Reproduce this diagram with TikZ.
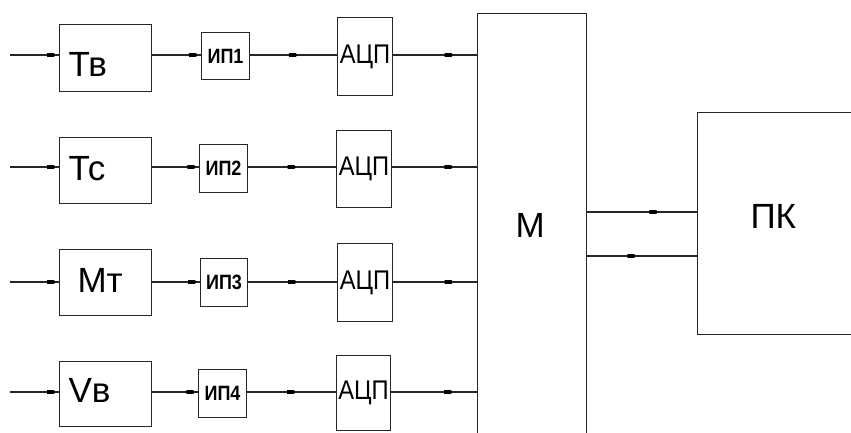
\documentclass[tikz,border=0pt]{standalone}
\usepackage{fontspec}
\setmainfont{Liberation Sans}
\usetikzlibrary{arrows.meta,decorations.markings}
\begin{document}
\begin{tikzpicture}[x=1pt,y=-1pt,line width=1pt,
  box/.style={draw=black!85,line width=1.1pt,inner sep=0pt,anchor=north west},
  big/.style={font=\fontsize{35}{35}\selectfont,anchor=base west,inner sep=0pt},
  ipt/.style={font=\bfseries\fontsize{18}{18}\selectfont,inner sep=0pt,yscale=1.15},
  adct/.style={font=\fontsize{25}{25}\selectfont,inner sep=0pt,xscale=0.95,yscale=1.08},
  conn/.style={draw=black!85,line width=1.1pt},
  mk/.style={postaction={decorate},decoration={markings,mark=at position #1 with {\fill[black] (-8pt,-1.8pt) -- (-1pt,-1.8pt) -- (0pt,0pt) -- (-1pt,1.8pt) -- (-8pt,1.8pt) -- cycle;}}}]
\clip (0,0) rectangle (851,432);
\fill[white] (0,0) rectangle (851,432);
% row 1
\node[box,minimum width=92,minimum height=67] (s1) at (59,24) {};
\node[box,minimum width=48,minimum height=47] (ip1) at (201,32) {};
\node[box,minimum width=55,minimum height=78] (adc1) at (337,17) {};
% row 2
\node[box,minimum width=92,minimum height=66] (s2) at (59,137) {};
\node[box,minimum width=48,minimum height=48] (ip2) at (199,144) {};
\node[box,minimum width=55,minimum height=77] (adc2) at (336,130) {};
% row 3
\node[box,minimum width=92,minimum height=66] (s3) at (59,249) {};
\node[box,minimum width=47,minimum height=48] (ip3) at (200,258) {};
\node[box,minimum width=55,minimum height=78] (adc3) at (337,243) {};
% row 4
\node[box,minimum width=92,minimum height=65] (s4) at (59,361) {};
\node[box,minimum width=48,minimum height=48] (ip4) at (198,369) {};
\node[box,minimum width=54,minimum height=75] (adc4) at (336,355) {};
% M and PC
\node[box,minimum width=109,minimum height=440] (M) at (477,13) {};
\node[box,minimum width=175,minimum height=222] (PC) at (697,112) {};
% texts
\node[big] (t1) at (68,76) {Тв};
\node[big] (t2) at (68,180) {Тс};
\node[big] (t3) at (77,292) {Мт};
\node[big] (t4) at (68,402) {Vв};
\node[big] (tM) at (515,237) {М};
\node[big] (tPC) at (750,228) {ПК};
\foreach \i in {1,2,3,4}{
  \node[ipt] (tip\i) at (ip\i.center) {ИП\i};
  \node[adct] (tadc\i) at (adc\i.center) {АЦП};
}
% connectors
\coordinate (in1) at (10,55);
\coordinate (in2) at (10,167);
\coordinate (in3) at (10,282);
\coordinate (in4) at (10,392);
\foreach \i in {1,2,3,4}{
  \draw[conn,mk=0.92] (in\i) -- (in\i -| s\i.west);
  \draw[conn,mk=0.92] (s\i.east |- in\i) -- (in\i -| ip\i.west);
  \draw[conn,mk=0.54] (ip\i.east |- in\i) -- (in\i -| adc\i.west);
  \draw[conn,mk=0.71] (adc\i.east |- in\i) -- (in\i -| M.west);
}
\coordinate (c1) at (600,212);
\coordinate (c2) at (600,256);
\draw[conn,mk=0.64] (M.east |- c1) -- (PC.west |- c1);
\draw[conn,mk=0.64] (PC.west |- c2) -- (M.east |- c2);
\end{tikzpicture}
\end{document}
